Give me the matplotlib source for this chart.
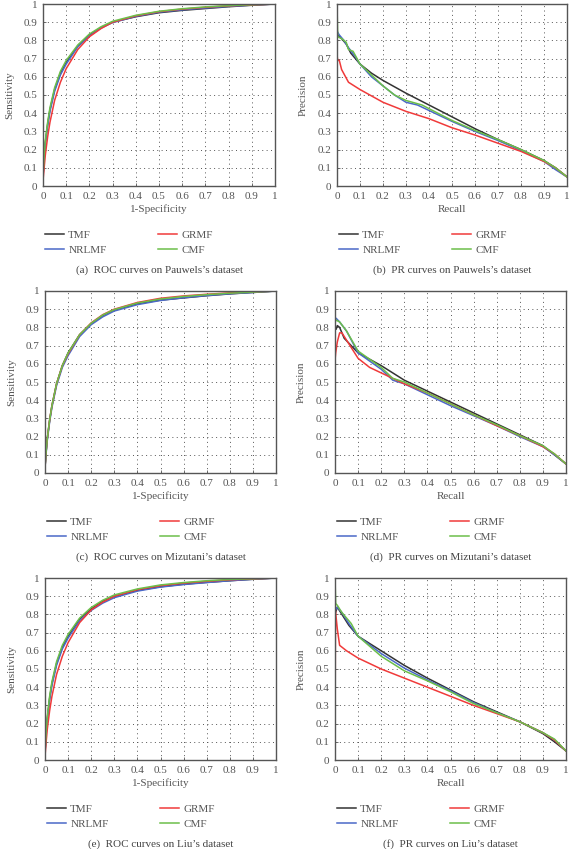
import matplotlib
matplotlib.use("Agg")
import matplotlib.pyplot as plt

plt.rcParams['font.family'] = ['Liberation Serif', 'DejaVu Serif']

methods = ["TMF", "NRLMF", "GRMF", "CMF"]
colors = {"TMF": "#333333", "NRLMF": "#4a68c8", "GRMF": "#f03a3a", "CMF": "#6cbf4a"}

# ---- ROC curves: (1-specificity, sensitivity) ----
roc_fpr = [0, 0.005, 0.01, 0.02, 0.03, 0.05, 0.075, 0.1, 0.15, 0.2, 0.25, 0.3,
           0.4, 0.5, 0.6, 0.7, 0.8, 0.9, 1.0]

roc_pauwels = {
    "TMF":   [0.05, 0.16, 0.24, 0.34, 0.42, 0.53, 0.62, 0.68, 0.77, 0.83, 0.87, 0.90,
              0.93, 0.952, 0.965, 0.975, 0.985, 0.993, 1.0],
    "NRLMF": [0.05, 0.15, 0.23, 0.33, 0.41, 0.52, 0.61, 0.67, 0.765, 0.825, 0.868, 0.898,
              0.932, 0.955, 0.968, 0.978, 0.987, 0.994, 1.0],
    "GRMF":  [0.03, 0.10, 0.17, 0.27, 0.35, 0.47, 0.57, 0.645, 0.75, 0.82, 0.865, 0.90,
              0.935, 0.958, 0.972, 0.982, 0.99, 0.995, 1.0],
    "CMF":   [0.06, 0.17, 0.25, 0.35, 0.43, 0.54, 0.63, 0.69, 0.775, 0.835, 0.875, 0.905,
              0.938, 0.96, 0.974, 0.984, 0.991, 0.996, 1.0],
}
roc_mizutani = {
    "TMF":   [0.03, 0.12, 0.19, 0.29, 0.37, 0.49, 0.59, 0.66, 0.76, 0.82, 0.865, 0.895,
              0.93, 0.95, 0.962, 0.974, 0.984, 0.992, 1.0],
    "NRLMF": [0.03, 0.11, 0.18, 0.28, 0.36, 0.48, 0.58, 0.645, 0.75, 0.815, 0.858, 0.89,
              0.925, 0.948, 0.963, 0.975, 0.985, 0.992, 1.0],
    "GRMF":  [0.03, 0.12, 0.19, 0.29, 0.37, 0.49, 0.59, 0.655, 0.76, 0.825, 0.87, 0.90,
              0.937, 0.96, 0.973, 0.982, 0.99, 0.995, 1.0],
    "CMF":   [0.03, 0.12, 0.19, 0.29, 0.37, 0.49, 0.59, 0.66, 0.76, 0.823, 0.868, 0.898,
              0.934, 0.956, 0.97, 0.98, 0.988, 0.994, 1.0],
}
roc_liu = {
    "TMF":   [0.04, 0.15, 0.23, 0.34, 0.42, 0.53, 0.62, 0.68, 0.775, 0.83, 0.872, 0.90,
              0.932, 0.952, 0.966, 0.976, 0.985, 0.993, 1.0],
    "NRLMF": [0.04, 0.14, 0.22, 0.33, 0.41, 0.52, 0.61, 0.67, 0.765, 0.822, 0.862, 0.892,
              0.928, 0.95, 0.964, 0.975, 0.985, 0.993, 1.0],
    "GRMF":  [0.02, 0.10, 0.17, 0.27, 0.35, 0.47, 0.57, 0.645, 0.755, 0.825, 0.868, 0.90,
              0.936, 0.958, 0.972, 0.982, 0.99, 0.995, 1.0],
    "CMF":   [0.05, 0.16, 0.24, 0.35, 0.43, 0.54, 0.63, 0.69, 0.78, 0.838, 0.878, 0.907,
              0.94, 0.962, 0.975, 0.985, 0.992, 0.996, 1.0],
}

# ---- PR curves: (recall, precision) per method ----
pr_pauwels = {
    "TMF": ([0, 0.003, 0.01, 0.02, 0.04, 0.06, 0.1, 0.15, 0.2, 0.3, 0.4, 0.5, 0.6, 0.7, 0.8, 0.9, 0.95, 1.0],
            [0.87, 0.83, 0.82, 0.81, 0.78, 0.73, 0.67, 0.62, 0.58, 0.51, 0.445, 0.38, 0.315, 0.255, 0.2, 0.14, 0.1, 0.05]),
    "NRLMF": ([0, 0.005, 0.01, 0.03, 0.05, 0.08, 0.1, 0.15, 0.2, 0.25, 0.3, 0.35, 0.4, 0.5, 0.6, 0.7, 0.8, 0.9, 0.95, 1.0],
              [0.85, 0.84, 0.83, 0.80, 0.76, 0.71, 0.67, 0.60, 0.55, 0.50, 0.46, 0.445, 0.415, 0.355, 0.30, 0.25, 0.195, 0.135, 0.09, 0.05]),
    "GRMF": ([0, 0.003, 0.01, 0.02, 0.05, 0.1, 0.2, 0.3, 0.4, 0.5, 0.6, 0.7, 0.8, 0.9, 0.95, 1.0],
             [0.72, 0.69, 0.69, 0.64, 0.57, 0.53, 0.46, 0.41, 0.37, 0.32, 0.28, 0.235, 0.19, 0.135, 0.10, 0.05]),
    "CMF": ([0, 0.003, 0.02, 0.04, 0.05, 0.07, 0.1, 0.15, 0.2, 0.25, 0.3, 0.37, 0.4, 0.5, 0.6, 0.7, 0.8, 0.9, 0.95, 1.0],
            [1.0, 0.82, 0.81, 0.79, 0.75, 0.74, 0.67, 0.61, 0.55, 0.50, 0.47, 0.445, 0.425, 0.36, 0.305, 0.255, 0.2, 0.14, 0.10, 0.05]),
}
pr_mizutani = {
    "TMF": ([0, 0.005, 0.01, 0.02, 0.04, 0.07, 0.1, 0.2, 0.3, 0.4, 0.5, 0.6, 0.7, 0.8, 0.9, 0.95, 1.0],
            [0.80, 0.79, 0.81, 0.80, 0.74, 0.70, 0.66, 0.59, 0.51, 0.45, 0.39, 0.33, 0.27, 0.21, 0.15, 0.10, 0.05]),
    "NRLMF": ([0, 0.005, 0.02, 0.05, 0.1, 0.2, 0.25, 0.3, 0.4, 0.5, 0.6, 0.7, 0.8, 0.9, 0.95, 1.0],
              [0.84, 0.85, 0.83, 0.78, 0.66, 0.57, 0.51, 0.49, 0.43, 0.37, 0.315, 0.26, 0.20, 0.145, 0.10, 0.05]),
    "GRMF": ([0, 0, 0.003, 0.01, 0.02, 0.03, 0.05, 0.1, 0.15, 0.2, 0.3, 0.4, 0.5, 0.6, 0.7, 0.8, 0.9, 0.95, 1.0],
             [1.0, 0.62, 0.66, 0.72, 0.77, 0.77, 0.73, 0.63, 0.58, 0.55, 0.49, 0.44, 0.38, 0.32, 0.26, 0.205, 0.145, 0.105, 0.05]),
    "CMF": ([0, 0.005, 0.02, 0.05, 0.1, 0.2, 0.25, 0.3, 0.4, 0.5, 0.6, 0.7, 0.8, 0.9, 0.95, 1.0],
            [0.83, 0.84, 0.83, 0.78, 0.67, 0.58, 0.52, 0.50, 0.44, 0.38, 0.32, 0.265, 0.205, 0.15, 0.105, 0.05]),
}
pr_liu = {
    "TMF": ([0, 0.01, 0.03, 0.06, 0.1, 0.2, 0.3, 0.4, 0.5, 0.6, 0.7, 0.8, 0.9, 0.95, 1.0],
            [0.80, 0.84, 0.80, 0.74, 0.68, 0.60, 0.52, 0.45, 0.385, 0.32, 0.265, 0.21, 0.145, 0.10, 0.05]),
    "NRLMF": ([0, 0.01, 0.03, 0.06, 0.1, 0.2, 0.3, 0.4, 0.5, 0.6, 0.7, 0.8, 0.9, 0.95, 1.0],
              [0.82, 0.84, 0.81, 0.75, 0.68, 0.585, 0.505, 0.44, 0.38, 0.315, 0.26, 0.21, 0.15, 0.11, 0.05]),
    "GRMF": ([0, 0.002, 0.01, 0.02, 0.05, 0.1, 0.2, 0.3, 0.4, 0.5, 0.6, 0.7, 0.8, 0.9, 0.95, 1.0],
             [0.0, 0.82, 0.72, 0.63, 0.60, 0.56, 0.50, 0.45, 0.40, 0.35, 0.30, 0.255, 0.21, 0.15, 0.11, 0.05]),
    "CMF": ([0, 0.003, 0.01, 0.03, 0.07, 0.1, 0.2, 0.3, 0.4, 0.5, 0.6, 0.7, 0.8, 0.9, 0.95, 1.0],
            [1.0, 0.86, 0.85, 0.81, 0.75, 0.68, 0.57, 0.49, 0.435, 0.375, 0.31, 0.26, 0.21, 0.15, 0.115, 0.05]),
}

ticks = [0, 0.1, 0.2, 0.3, 0.4, 0.5, 0.6, 0.7, 0.8, 0.9, 1]
tick_labels = ["0", "0.1", "0.2", "0.3", "0.4", "0.5", "0.6", "0.7", "0.8", "0.9", "1"]

captions = [
    "(a)  ROC curves on Pauwels\u2019s dataset", "(b)  PR curves on Pauwels\u2019s dataset",
    "(c)  ROC curves on Mizutani\u2019s dataset", "(d)  PR curves on Mizutani\u2019s dataset",
    "(e)  ROC curves on Liu\u2019s dataset", "(f)  PR curves on Liu\u2019s dataset",
]

W, H = 569, 849
fig = plt.figure(figsize=(W / 100, H / 100), dpi=100)

# axes boxes in pixels: left, right, top, bottom
boxes = [(43, 275, 4, 186), (337, 567, 4, 186),
         (45, 276, 291, 473), (335, 566, 291, 473),
         (45, 276, 578, 760), (335, 566, 578, 760)]

panels = [("roc", roc_pauwels), ("pr", pr_pauwels),
          ("roc", roc_mizutani), ("pr", pr_mizutani),
          ("roc", roc_liu), ("pr", pr_liu)]

txt_color = "#555555"
fs = 8

for i, ((kind, data), (l, r, t, b)) in enumerate(zip(panels, boxes)):
    ax = fig.add_axes([l / W, 1 - b / H, (r - l) / W, (b - t) / H])
    handles = []
    for m in methods:
        if kind == "roc":
            x, y = roc_fpr, data[m]
        else:
            x, y = data[m]
        h, = ax.plot(x, y, color=colors[m], lw=1.1, label=m)
        handles.append(h)
    ax.set_xlim(0, 1)
    ax.set_ylim(0, 1)
    ax.set_xticks(ticks)
    ax.set_yticks(ticks)
    ax.set_xticklabels(tick_labels)
    ax.set_yticklabels(tick_labels)
    ax.tick_params(labelsize=fs, colors=txt_color, length=2, width=0.6,
                   direction="in", pad=4)
    ax.grid(True, linestyle=(0, (1, 3.5)), color="#555555", lw=0.7)
    for s in ax.spines.values():
        s.set_color("#555555")
        s.set_linewidth(1.0)
    if kind == "roc":
        ax.set_xlabel("1-Specificity", fontsize=fs, color=txt_color, labelpad=3)
        ax.set_ylabel("Sensitivity", fontsize=fs, color=txt_color, labelpad=7)
    else:
        ax.set_xlabel("Recall", fontsize=fs, color=txt_color, labelpad=3)
        ax.set_ylabel("Precision", fontsize=fs, color=txt_color, labelpad=7)
    ax.legend(handles, methods, ncol=2, loc="upper left",
              bbox_to_anchor=(-0.035, -0.19), frameon=False, fontsize=fs,
              handlelength=1.7, handletextpad=0.4, columnspacing=4.6,
              labelspacing=0.45, labelcolor=txt_color)
    ax.text(0.5, -0.46, captions[i], transform=ax.transAxes, ha="center",
            va="center", fontsize=fs, color="#444444")

fig.savefig("out.png", dpi=100)
